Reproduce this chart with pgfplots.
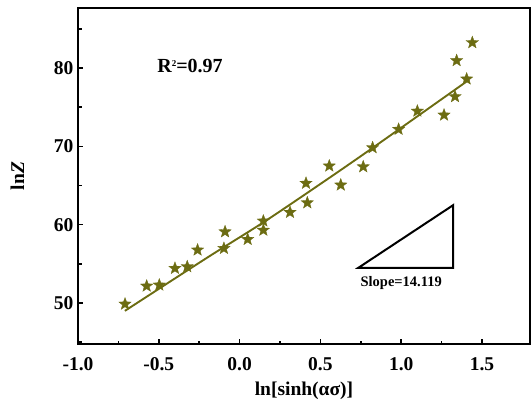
\documentclass[border=0pt]{standalone}
\usepackage{fontspec}
\setmainfont{Liberation Serif}
\usepackage{pgfplots}
\pgfplotsset{compat=1.18}
\definecolor{olv}{RGB}{108,108,18}
\pgfdeclareplotmark{fstar}{%
  \pgfpathmoveto{\pgfpointpolar{90}{\pgfplotmarksize}}%
  \pgfpathlineto{\pgfpointpolar{126}{0.42\pgfplotmarksize}}%
  \pgfpathlineto{\pgfpointpolar{162}{\pgfplotmarksize}}%
  \pgfpathlineto{\pgfpointpolar{198}{0.42\pgfplotmarksize}}%
  \pgfpathlineto{\pgfpointpolar{234}{\pgfplotmarksize}}%
  \pgfpathlineto{\pgfpointpolar{270}{0.42\pgfplotmarksize}}%
  \pgfpathlineto{\pgfpointpolar{306}{\pgfplotmarksize}}%
  \pgfpathlineto{\pgfpointpolar{342}{0.42\pgfplotmarksize}}%
  \pgfpathlineto{\pgfpointpolar{18}{\pgfplotmarksize}}%
  \pgfpathlineto{\pgfpointpolar{54}{0.42\pgfplotmarksize}}%
  \pgfpathclose
  \pgfusepathqfillstroke}
\begin{document}
\begin{tikzpicture}
\begin{axis}[
  at={(0,0)}, anchor=south west,
  scale only axis, width=452pt, height=336pt,
  xmin=-1, xmax=1.797, ymin=44.77, ymax=87.66,
  xtick={-1,-0.5,0,0.5,1,1.5},
  xticklabels={-1.0,-0.5,0.0,0.5,1.0,1.5},
  minor xtick={-0.75,-0.25,0.25,0.75,1.25},
  ytick={50,60,70,80},
  minor ytick={45,55,65,75,85},
  tick align=inside, xtick pos=bottom, ytick pos=left,
  major tick length=5pt, minor tick length=3.5pt,
  every tick/.style={black, line width=1.6pt},
  axis line style={line width=2.6pt},
  tick label style={font=\fontsize{19.5}{19.5}\selectfont\bfseries},
  /pgf/number format/assume math mode=true,
  xticklabel style={yshift=-10pt},
  yticklabel style={xshift=-1pt},
  xlabel={ln[sinh(ασ)]},
  ylabel={ln\textit{Z}},
  label style={font=\fontsize{19.5}{19.5}\selectfont\bfseries},
  xlabel style={yshift=-4pt},
  ylabel style={yshift=23pt},
  clip=false,
]
\addplot[olv, line width=1.9pt, smooth, tension=0.5] coordinates {
(-0.71,49.0) (-0.2,55.8) (0.147,60.3) (0.5,65.2) (0.823,69.8) (1.42,78.5)
};
\addplot[only marks, olv, mark=fstar, mark size=6.5pt,
  mark options={solid, fill=olv, draw=olv, line width=0.3pt}] coordinates {
(-0.709,49.87) (-0.575,52.17) (-0.497,52.3) (-0.400,54.43) (-0.324,54.64)
(-0.260,56.77) (-0.090,59.1) (-0.097,56.98) (0.050,58.13) (0.147,60.47)
(0.147,59.3) (0.312,61.58) (0.419,62.8) (0.411,65.29) (0.555,67.5)
(0.626,65.07) (0.765,67.4) (0.823,69.83) (0.984,72.18) (1.100,74.5)
(1.265,74.0) (1.333,76.35) (1.405,78.6) (1.343,80.95) (1.440,83.24)
};
\draw[black, line width=2pt, line join=miter] (axis cs:0.735,54.5) -- (axis cs:1.322,54.5) -- (axis cs:1.322,62.5) -- cycle;
\node[font=\fontsize{14.5}{14.5}\selectfont\bfseries] at (axis cs:1.0,52.6) {Slope=14.119};
\node[font=\fontsize{20}{20}\selectfont\bfseries] at (axis cs:-0.307,80.2) {R\raisebox{0.75ex}{\fontsize{9}{9}\selectfont 2}=0.97};
\end{axis}
\pgfresetboundingbox
\path[use as bounding box] (-78pt,-55pt) rectangle (454pt,344pt);
\end{tikzpicture}
\end{document}
